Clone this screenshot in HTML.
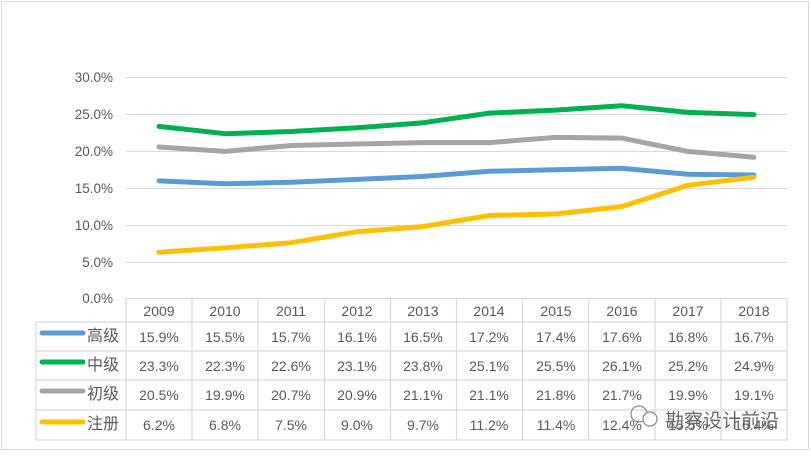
<!DOCTYPE html>
<html><head><meta charset="utf-8"><style>
body{margin:0;background:#fff;}
svg text{font-family:"Liberation Sans","Noto Sans CJK SC",sans-serif;fill:#595959;}
</style></head><body>
<svg width="811" height="452" xmlns="http://www.w3.org/2000/svg">
<rect x="1.5" y="1.5" width="807" height="448" fill="#fff" stroke="#d9d9d9"/>
<g stroke="#d9d9d9" stroke-width="1">
<line x1="126" y1="77.5" x2="787" y2="77.5"/>
<line x1="126" y1="114.5" x2="787" y2="114.5"/>
<line x1="126" y1="151.5" x2="787" y2="151.5"/>
<line x1="126" y1="188.5" x2="787" y2="188.5"/>
<line x1="126" y1="225.5" x2="787" y2="225.5"/>
<line x1="126" y1="262.5" x2="787" y2="262.5"/>
<line x1="126" y1="298.5" x2="787" y2="298.5"/>
</g>
<g font-size="13.5" text-anchor="end">
<text x="113" y="82">30.0%</text><text x="113" y="119">25.0%</text><text x="113" y="156">20.0%</text>
<text x="113" y="193">15.0%</text><text x="113" y="230">10.0%</text><text x="113" y="267">5.0%</text><text x="113" y="303">0.0%</text>
</g>
<g stroke="#d9d9d9" stroke-width="1.2" fill="none">
<line x1="36" y1="322" x2="787" y2="322"/>
<line x1="36" y1="351" x2="787" y2="351"/>
<line x1="36" y1="380" x2="787" y2="380"/>
<line x1="36" y1="410" x2="787" y2="410"/>
<line x1="36" y1="440" x2="787" y2="440"/>
<line x1="36" y1="322" x2="36" y2="440"/>
<line x1="126" y1="298" x2="126" y2="440"/>
<line x1="192" y1="298" x2="192" y2="440"/>
<line x1="258" y1="298" x2="258" y2="440"/>
<line x1="324.5" y1="298" x2="324.5" y2="440"/>
<line x1="390.5" y1="298" x2="390.5" y2="440"/>
<line x1="456.5" y1="298" x2="456.5" y2="440"/>
<line x1="522.5" y1="298" x2="522.5" y2="440"/>
<line x1="588.5" y1="298" x2="588.5" y2="440"/>
<line x1="655" y1="298" x2="655" y2="440"/>
<line x1="721" y1="298" x2="721" y2="440"/>
<line x1="787" y1="298" x2="787" y2="440"/>
</g>
<g fill="none" stroke-width="5" stroke-linejoin="round" stroke-linecap="round">
<polyline stroke="#5b9bd5" points="159,180.9 225.1,183.8 291.2,182.3 357.3,179.4 423.4,176.4 489.5,171.3 555.6,169.8 621.7,168.3 687.8,174.2 753.9,175"/>
<polyline stroke="#00b050" points="159,126.4 225.1,133.7 291.2,131.5 357.3,127.8 423.4,122.7 489.5,113.1 555.6,110.1 621.7,105.7 687.8,112.4 753.9,114.6"/>
<polyline stroke="#a5a5a5" points="159,147 225.1,151.4 291.2,145.5 357.3,144 423.4,142.6 489.5,142.6 555.6,137.4 621.7,138.1 687.8,151.4 753.9,157.3"/>
<polyline stroke="#ffc000" points="159,252.3 225.1,247.9 291.2,242.7 357.3,231.7 423.4,226.5 489.5,215.5 555.6,214 621.7,206.6 687.8,185.3 753.9,177.2"/>
</g>
<g font-size="14" text-anchor="middle">
<text x="159" y="316">2009</text><text x="225" y="316">2010</text><text x="291" y="316">2011</text><text x="357" y="316">2012</text><text x="423" y="316">2013</text><text x="489" y="316">2014</text><text x="556" y="316">2015</text><text x="622" y="316">2016</text><text x="688" y="316">2017</text><text x="754" y="316">2018</text>
<g transform="translate(0,342)"><text x="159">15.9%</text><text x="225">15.5%</text><text x="291">15.7%</text><text x="357">16.1%</text><text x="423">16.5%</text><text x="489">17.2%</text><text x="556">17.4%</text><text x="622">17.6%</text><text x="688">16.8%</text><text x="754">16.7%</text></g>
<g transform="translate(0,371)"><text x="159">23.3%</text><text x="225">22.3%</text><text x="291">22.6%</text><text x="357">23.1%</text><text x="423">23.8%</text><text x="489">25.1%</text><text x="556">25.5%</text><text x="622">26.1%</text><text x="688">25.2%</text><text x="754">24.9%</text></g>
<g transform="translate(0,400)"><text x="159">20.5%</text><text x="225">19.9%</text><text x="291">20.7%</text><text x="357">20.9%</text><text x="423">21.1%</text><text x="489">21.1%</text><text x="556">21.8%</text><text x="622">21.7%</text><text x="688">19.9%</text><text x="754">19.1%</text></g>
<g transform="translate(0,430)"><text x="159">6.2%</text><text x="225">6.8%</text><text x="291">7.5%</text><text x="357">9.0%</text><text x="423">9.7%</text><text x="489">11.2%</text><text x="556">11.4%</text><text x="622">12.4%</text><text x="688">15.5%</text><text x="754">16.4%</text></g>
</g>
<g stroke-width="5" stroke-linecap="round">
<line x1="42" y1="333" x2="83" y2="333" stroke="#5b9bd5"/>
<line x1="42" y1="362" x2="83" y2="362" stroke="#00b050"/>
<line x1="42" y1="391" x2="83" y2="391" stroke="#a5a5a5"/>
<line x1="42" y1="422" x2="83" y2="422" stroke="#ffc000"/>
</g>
<g font-size="16">
<text x="87" y="341">高级</text><text x="87" y="370">中级</text><text x="87" y="399">初级</text><text x="87" y="429">注册</text>
</g>
<circle cx="639" cy="414" r="8" fill="none" stroke="#888" stroke-width="1.2"/>
<circle cx="650" cy="419" r="7" fill="#fff" stroke="#888" stroke-width="1.2"/>
<text x="665" y="427" font-size="19" style="fill:#666">勘察设计前沿</text>
</svg>
</body></html>
